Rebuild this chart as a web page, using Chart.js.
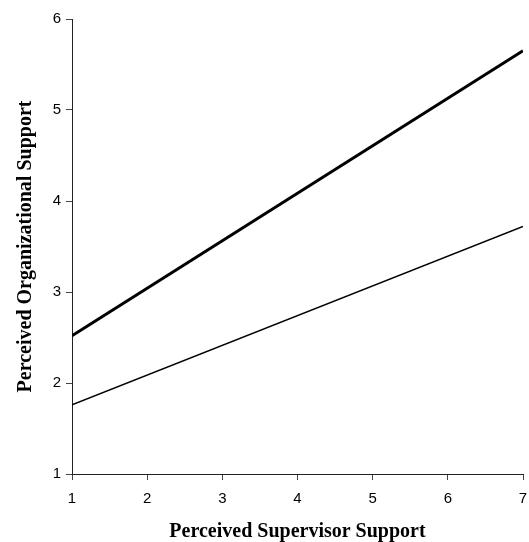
<!DOCTYPE html>
<html lang="en">

<head>
    <meta charset="UTF-8">
    <title>Perceived Organizational Support</title>
    <script src="https://cdn.jsdelivr.net/npm/chart.js@4.4.1/dist/chart.umd.min.js"></script>
    <style>
        html, body { margin: 0; padding: 0; background: #fff; }
        .wrap { width: 529px; height: 542px; }
    </style>
</head>

<body>
    <div class="wrap"><canvas id="posChart" width="529" height="542"></canvas></div>

    <script>
        // Data
        const supervisorSupport = [1, 7];
        const highLine = [2.52, 5.65];   // thick line
        const lowLine = [1.76, 3.72];    // thin line
        const xTicks = [1, 2, 3, 4, 5, 6, 7];
        const yTicks = [1, 2, 3, 4, 5, 6];

        const toPoints = (xs, ys) => xs.map((x, i) => ({ x: x, y: ys[i] }));

        new Chart(document.getElementById('posChart').getContext('2d'), {
            type: 'line',
            data: {
                datasets: [{
                    data: toPoints(supervisorSupport, highLine),
                    borderColor: '#000',
                    borderWidth: 3,
                    pointRadius: 0,
                    fill: false
                }, {
                    data: toPoints(supervisorSupport, lowLine),
                    borderColor: '#000',
                    borderWidth: 1.6,
                    pointRadius: 0,
                    fill: false
                }]
            },
            options: {
                responsive: false,
                animation: false,
                layout: { padding: { top: 19, right: 6, bottom: 0, left: 0 } },
                plugins: { legend: { display: false }, tooltip: { enabled: false } },
                scales: {
                    x: {
                        type: 'linear',
                        min: 1,
                        max: 7,
                        afterBuildTicks: (s) => { s.ticks = xTicks.map(v => ({ value: v })); },
                        afterFit: (s) => { s.height = 68; s.paddingLeft = 0; s.paddingRight = 0; },
                        border: { display: true, color: '#222', width: 1 },
                        grid: { drawOnChartArea: false, drawTicks: true, tickLength: 6, color: '#444' },
                        ticks: { padding: 10, color: '#000', font: { family: 'Liberation Sans', size: 15 } },
                        title: {
                            display: true,
                            text: 'Perceived Supervisor Support',
                            color: '#000',
                            padding: { top: 0, bottom: -2 },
                            font: { family: 'Liberation Serif', size: 20, weight: 'bold' }
                        }
                    },
                    y: {
                        min: 1,
                        max: 6,
                        afterBuildTicks: (s) => { s.ticks = yTicks.map(v => ({ value: v })); },
                        afterFit: (s) => { s.width = 72; s.paddingTop = 0; s.paddingBottom = 0; },
                        border: { display: true, color: '#222', width: 1 },
                        grid: { drawOnChartArea: false, drawTicks: true, tickLength: 6, color: '#444' },
                        ticks: { padding: 5, color: '#000', font: { family: 'Liberation Sans', size: 15 } },
                        title: {
                            display: true,
                            text: 'Perceived Organizational Support',
                            color: '#000',
                            padding: { top: 14, bottom: 0 },
                            font: { family: 'Liberation Serif', size: 20, weight: 'bold' }
                        }
                    }
                }
            }
        });
    </script>
</body>

</html>
